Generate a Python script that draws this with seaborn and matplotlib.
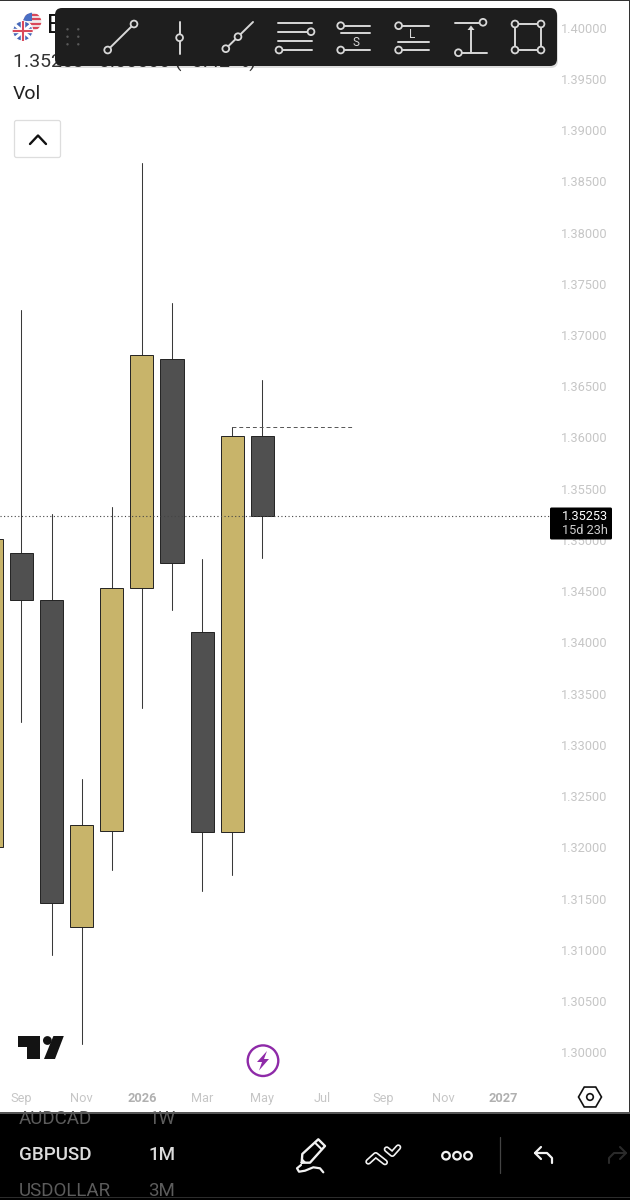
import numpy as np
import pandas as pd
import matplotlib
matplotlib.use("Agg")
import matplotlib.pyplot as plt
from matplotlib.patches import FancyBboxPatch, Circle, Polygon, Rectangle
from matplotlib.transforms import ScaledTranslation
import seaborn as sns

# ---------- data ----------
months = [-1, 0, 1, 2, 3, 4, 5, 6, 7, 8]   # Aug 2025 ... May 2026 (0 = Sep)
opens  = [1.32025, 1.34893, 1.34435, 1.31244, 1.32181, 1.34552, 1.36786, 1.34122, 1.32171, 1.36035]
closes = [1.35030, 1.34435, 1.31478, 1.32239, 1.34552, 1.36825, 1.34795, 1.32171, 1.36035, 1.35253]
highs  = [1.37500, 1.37264, 1.35274, 1.32688, 1.35342, 1.38698, 1.37332, 1.34835, 1.36122, 1.36581]
lows   = [1.31000, 1.33244, 1.30971, 1.30103, 1.31800, 1.33381, 1.34337, 1.31595, 1.31752, 1.34844]
last_price = 1.35253
prev_high = 1.36122
price_ticks = [1.30, 1.305, 1.31, 1.315, 1.32, 1.325, 1.33, 1.335, 1.34, 1.345, 1.35,
               1.355, 1.36, 1.365, 1.37, 1.375, 1.38, 1.385, 1.39, 1.395, 1.40]
time_ticks = [0, 2, 4, 6, 8, 10, 12, 14, 16]
time_labels = ["Sep", "Nov", "2026", "Mar", "May", "Jul", "Sep", "Nov", "2027"]

GOLD, DARK, EDGE = "#c8b46a", "#505050", "#222222"
sns.set_theme(style="white")
plt.rcParams["font.family"] = ["Roboto", "DejaVu Sans"]

fig = plt.figure(figsize=(6.3, 12), dpi=100, facecolor="white")
ax = fig.add_axes([0, 87 / 1200, 1, 1113 / 1200])

df = pd.DataFrame(dict(month=months, open=opens, close=closes, high=highs, low=lows))
df["bottom"] = df[["open", "close"]].min(axis=1)
df["height"] = (df["close"] - df["open"]).abs()
df["up"] = df["close"] > df["open"]

wicks = pd.concat([df[["month", "high"]].rename(columns={"high": "price"}),
                   df[["month", "low"]].rename(columns={"low": "price"})])
sns.lineplot(data=wicks, x="month", y="price", units="month", estimator=None, sort=False,
             color="#3a3a3a", linewidth=0.75, ax=ax, zorder=1, legend=False)

for flag, colour in [(True, GOLD), (False, DARK)]:
    sub = df[df["up"] == flag].sort_values("month")
    sns.barplot(data=sub, x="month", y="height", bottom=sub["bottom"].values, native_scale=True,
                width=0.77, color=colour, saturation=1, errorbar=None, edgecolor=EDGE,
                linewidth=0.7, ax=ax, zorder=2)

PX_TOP = 29.5   # pixel row of 1.40000
PX_PER = 10250.0
MPX = 30.125
X0 = 21.4
ax.set_xlim(-X0 / MPX, (630 - X0) / MPX)
ax.set_ylim(1.4 - (1113 - PX_TOP) / PX_PER, 1.4 + PX_TOP / PX_PER)
ax.set_xlabel(""); ax.set_ylabel("")
sns.despine(ax=ax, left=True, bottom=True)
ax.grid(False)

ax.yaxis.tick_right()
ax.set_yticks(price_ticks)
ax.set_yticklabels([f"{p:.5f}" for p in price_ticks])
ax.tick_params(axis="y", length=0, pad=-49.7, labelsize=9.2, labelcolor="#c6c6c6")
lift = ScaledTranslation(0, 2 / 100, fig.dpi_scale_trans)
for t in ax.get_yticklabels():
    t.set_transform(t.get_transform() + lift)
ax.set_xticks(time_ticks)
ax.set_xticklabels(time_labels)
ax.tick_params(axis="x", length=0, pad=-15, labelsize=9.2, labelcolor="#c6c6c6")
for t in ax.get_xticklabels():
    if t.get_text().startswith("20"):
        t.set_fontweight("bold"); t.set_color("#b0b0b0")

ax.plot([-X0 / MPX, (550 - X0) / MPX], [last_price, last_price], color="#444444", lw=0.8,
        ls=(0, (1, 2.2)), zorder=3)
ax.plot([7, 11], [prev_high, prev_high], color="#555555", lw=0.7, ls=(0, (4, 3)), zorder=3)

# ---------- interface furniture, in pixel coordinates ----------
ui = fig.add_axes([0, 0, 1, 1], zorder=5)
ui.set_xlim(0, 630); ui.set_ylim(1200, 0); ui.axis("off"); ui.patch.set_alpha(0)

def line(xs, ys, c="#d8d8d8", lw=1.4, z=12):
    ui.plot(xs, ys, color=c, lw=lw, zorder=z, solid_capstyle="round", solid_joinstyle="round")

def node(x, y, r=3.4, c="#d8d8d8", fc="#1e1e1e", z=13, lw=1.3):
    ui.add_patch(Circle((x, y), r, fc=fc, ec=c, lw=lw, zorder=z))

# frame edges
ui.add_patch(Rectangle((0, 0), 630, 1.2, fc="#333333", ec="none", zorder=1))
ui.add_patch(Rectangle((628.8, 0), 1.2, 1113, fc="#333333", ec="none", zorder=1))

# header
ui.text(47, 26, "E", fontsize=18, color="#111111", va="center", zorder=2)
ui.text(13, 62, "1.35253  -0.00566 ( -0.42 %)", fontsize=14, color="#333333", va="center", zorder=2)
ui.text(13, 94, "Vol", fontsize=14, color="#222222", va="center", zorder=2)

# flags
us = Circle((32.3, 21.7), 9, fc="#f0eeee", ec="none", zorder=3)
ui.add_patch(us)
for yy in (14.5, 19, 23.5, 28):
    l_, = ui.plot([23, 42], [yy, yy], color="#d9485a", lw=1.6, zorder=3, solid_capstyle="butt")
    l_.set_clip_path(us)
r_ = Rectangle((23, 12), 9, 9, fc="#4a6fc4", ec="none", zorder=3)
ui.add_patch(r_); r_.set_clip_path(us)
uk = Circle((22.7, 31), 10, fc="#4667b8", ec="white", lw=0.8, zorder=4)
ui.add_patch(uk)
for a, b, c_, w in [((14, 24), (32, 39), "white", 2.2), ((32, 24), (14, 39), "white", 2.2),
                    ((22.7, 20), (22.7, 42), "white", 3.2), ((12, 31), (33, 31), "white", 3.2),
                    ((22.7, 20), (22.7, 42), "#d9485a", 1.5), ((12, 31), (33, 31), "#d9485a", 1.5)]:
    ln, = ui.plot([a[0], b[0]], [a[1], b[1]], color=c_, lw=w, zorder=4, solid_capstyle="butt")
    ln.set_clip_path(uk)

# collapse button
ui.add_patch(FancyBboxPatch((14.5, 120.5), 46, 37, boxstyle="round,pad=0,rounding_size=2",
                            fc="white", ec="#dddddd", lw=0.9, zorder=3))
line([30, 38, 46], [144, 135.5, 144], c="#111111", lw=1.7, z=4)

# drawing toolbar
ui.add_patch(FancyBboxPatch((56, 10), 502, 58, boxstyle="round,pad=0,rounding_size=7",
                            fc="black", ec="none", alpha=0.13, zorder=9))
ui.add_patch(FancyBboxPatch((55, 8), 502, 58, boxstyle="round,pad=0,rounding_size=7",
                            fc="#1e1e1e", ec="none", zorder=10))
for dx in (67.5, 78.3):
    for dy in (29.3, 36.7, 44.3):
        ui.add_patch(Circle((dx, dy), 1.2, fc="#5a5a5a", ec="none", zorder=12))
line([107.7, 134], [50, 24]); node(107.7, 50); node(134, 24)
line([179.6, 179.6], [22, 54]); node(179.6, 37.7)
line([225.8, 253], [48.7, 22]); node(225.8, 48.7); node(238, 36.7)
line([278.4, 312], [22.7, 22.7]); line([278.4, 308], [31.7, 31.7]); node(311, 31.7)
line([278.4, 312], [40.7, 40.7]); line([279, 312], [50, 50]); node(279, 50)
line([340.7, 370.4], [25.7, 25.7]); line([340.5, 370.4], [33, 33]); line([340.7, 370.4], [50, 50])
node(340.7, 25.7); node(340.7, 50)
ui.text(355.6, 42, "S", color="#d8d8d8", fontsize=8.5, ha="center", va="center", zorder=12)
line([398.6, 428.7], [25.7, 25.7]); line([398, 428.7], [42.3, 42.3]); line([398.6, 428.7], [50, 50])
node(398.6, 25.7); node(398.6, 50)
ui.text(412.6, 34, "L", color="#d8d8d8", fontsize=8.5, ha="center", va="center", zorder=12)
line([455, 480], [22.7, 22.7]); node(483, 22.3); line([458.4, 487], [52.7, 52.7]); node(458.4, 52.7)
line([471, 471], [52.7, 29])
ui.add_patch(Polygon([(471, 25.5), (467.5, 30), (474.5, 30)], fc="#d8d8d8", ec="none", zorder=12))
line([515, 541, 541, 515, 515], [24, 24, 50, 50, 24])
for px, py in [(515, 24), (541, 24), (515, 50), (541, 50)]:
    node(px, py)

# last price label
ui.add_patch(FancyBboxPatch((550, 507.5), 62, 32, boxstyle="round,pad=0,rounding_size=1.5",
                            fc="black", ec="none", zorder=6))
ui.text(561.5, 516, f"{last_price:.5f}", color="white", fontsize=9.2, va="center", zorder=7)
ui.text(561.5, 530, "15d 23h", color="#cccccc", fontsize=9.2, va="center", zorder=7)

# TradingView logo
ui.add_patch(Polygon([(18, 1036), (40, 1036), (40, 1059), (27, 1059), (27, 1047), (18, 1047)],
                     fc="#131313", ec="none", zorder=3))
ui.add_patch(Circle((47.4, 1040.5), 4.4, fc="#131313", ec="none", zorder=3))
ui.add_patch(Polygon([(53.4, 1036), (63.8, 1036), (55, 1059), (44, 1059)], fc="#131313", ec="none", zorder=3))

# bolt marker
PUR = "#8e2aa8"
ui.add_patch(Circle((263, 1060.7), 15.3, fc="white", ec=PUR, lw=1.7, zorder=3))
ui.add_patch(Polygon([(267, 1051), (257, 1062), (262, 1062), (259, 1070.5), (269, 1059), (264, 1059)],
                     fc=PUR, ec="none", zorder=4))

# settings hexagon
ang = np.deg2rad([0, 60, 120, 180, 240, 300])
ui.add_patch(Polygon(np.c_[590 + 11.5 * np.cos(ang), 1097 + 11.5 * np.sin(ang)], fc="white",
                     ec="#111111", lw=1.2, zorder=3))
ui.add_patch(Circle((590, 1097), 3.3, fc="white", ec="#111111", lw=1.2, zorder=4))

# bottom panel
panel = Rectangle((0, 1113), 630, 87, fc="black", ec="none", zorder=3)
ui.add_patch(panel)
ui.add_patch(Rectangle((0, 1112), 630, 1.6, fc="#555555", ec="none", zorder=4))
ui.add_patch(Rectangle((0, 1196.5), 630, 1, fc="#2c2c2c", ec="none", zorder=4))
for x_, y_, s, c_, w_ in [(19, 1119, "AUDCAD", "#5c5c5c", "normal"), (148, 1119, "1W", "#5c5c5c", "normal"),
                          (19, 1155, "GBPUSD", "#dcdcdc", "medium"), (148, 1155, "1M", "#dcdcdc", "medium"),
                          (19, 1191, "USDOLLAR", "#5c5c5c", "normal"), (148, 1191, "3M", "#5c5c5c", "normal")]:
    t = ui.text(x_, y_, s, color=c_, fontsize=13.5, fontweight=w_, va="center", zorder=5)
    t.set_clip_path(Rectangle((0, 1113.5), 630, 83, transform=ui.transData))

W = "#f2f2f2"
# pencil
line([301.7, 302.3, 318.3, 325, 310, 301.7], [1162.7, 1154, 1139.3, 1146, 1162.7, 1162.7], c=W, lw=1.7, z=6)
line([315, 321.7], [1142.7, 1149.3], c=W, lw=1.5, z=6)
ui.add_patch(Polygon([(301.7, 1162.7), (302, 1158), (306.5, 1162.7)], fc=W, ec="none", zorder=6))
line([301, 297, 299, 305, 313.3, 320, 323.3], [1165, 1168.3, 1171.7, 1170.7, 1167.3, 1168.3, 1172.3], c=W, lw=1.6, z=6)
# double chevron
for xs, ys in [([368.3, 375.7, 385], [1161.7, 1155, 1162.3]), ([386.7, 392.3, 398.3], [1149.3, 1154, 1147.3])]:
    line(xs, ys, c=W, lw=4.4, z=6)
    line(xs, ys, c="black", lw=2.0, z=7)
# dots
for cx in (446, 457, 468):
    ui.add_patch(Circle((cx, 1155.7), 3.8, fc="black", ec=W, lw=1.6, zorder=6))
line([500, 500], [1137, 1173], c="#444444", lw=0.9, z=6)
# undo / redo
line([552, 552, 547, 535], [1163, 1158, 1153, 1153], c=W, lw=1.6, z=6)
line([541, 535, 541], [1147, 1153, 1159], c=W, lw=1.6, z=6)
line([609, 609, 614, 626], [1163, 1158, 1153, 1153], c="#2a2a2a", lw=1.5, z=6)
line([620, 626, 620], [1147, 1153, 1159], c="#2a2a2a", lw=1.5, z=6)

fig.savefig("out.png", dpi=100, facecolor="white")
